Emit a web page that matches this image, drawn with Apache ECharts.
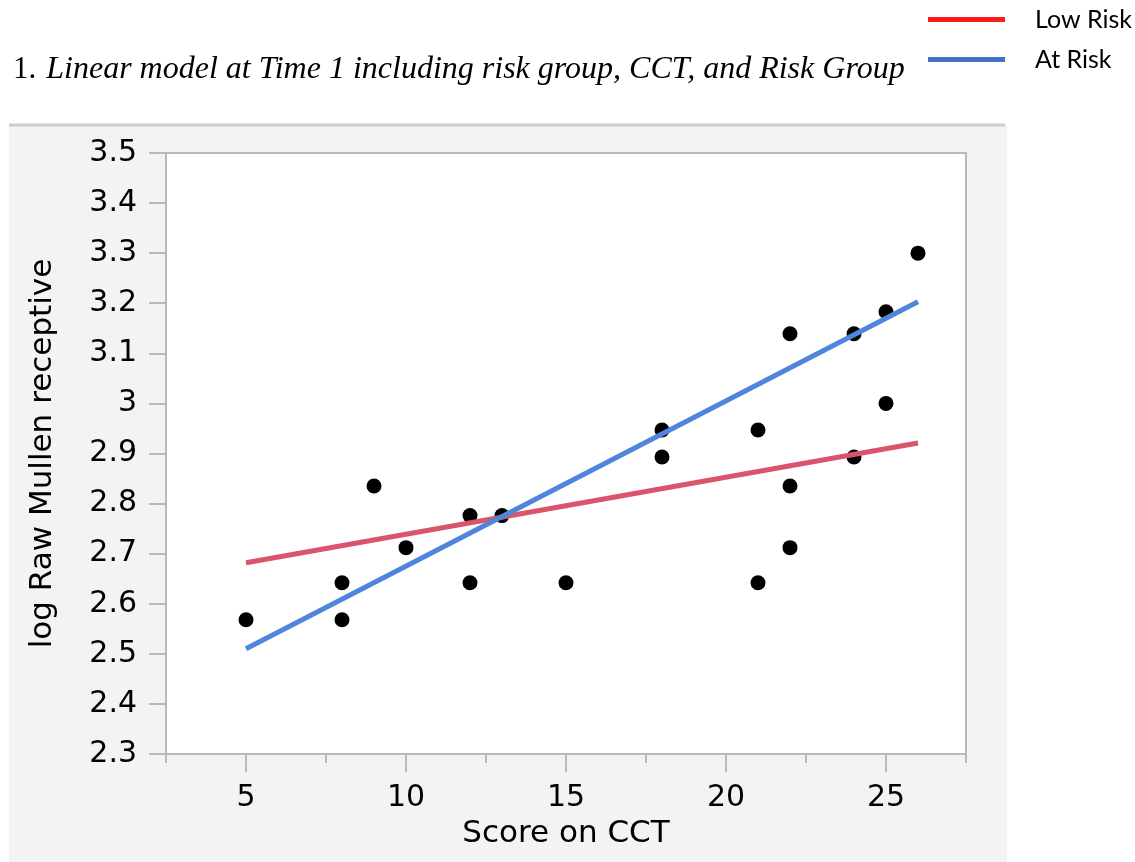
<!DOCTYPE html>
<html>
<head>
<meta charset="utf-8">
<title>Linear model at Time 1</title>
<script src="https://cdn.jsdelivr.net/npm/echarts@6/dist/echarts.min.js"></script>
<style>
  html, body { margin: 0; padding: 0; background: #fff; }
  #chart { width: 1135px; height: 862px; }
</style>
</head>
<body>
<div id="chart"></div>
<script>
  // points: [score on CCT, log raw Mullen receptive]
  const cctScores = [5, 8, 8, 9, 10, 12, 12, 13, 15, 18, 18, 21, 21, 22, 22, 22, 24, 24, 25, 25, 26]
  const mullenLog = [2.568, 2.642, 2.568, 2.835, 2.712, 2.776, 2.642, 2.776, 2.642, 2.947, 2.893,
    2.947, 2.642, 3.139, 2.835, 2.712, 3.139, 2.893, 3.183, 3.000, 3.300]

  // fitted lines, end points
  const lineX = [5, 26]
  const lowRiskY = [2.682, 2.921]
  const atRiskY = [2.51, 3.203]

  const xMajorTicks = [5, 10, 15, 20, 25]

  const axisGray = '#b9b9b9'
  const tickFont = 'DejaVu Sans'

  let chart = echarts.init(document.getElementById('chart'))

  chart.setOption({
    animation: false,
    title: {
      left: 8,
      top: 49,
      text: '{n|1.}  {i|Linear model at Time 1 including risk group, CCT, and Risk Group}',
      textStyle: {
        fontWeight: 'normal',
        rich: {
          n: { fontFamily: 'Liberation Serif', fontWeight: 'normal', fontSize: 31, color: '#000' },
          i: { fontFamily: 'Liberation Serif', fontWeight: 'normal', fontStyle: 'italic', fontSize: 32, color: '#000' }
        }
      }
    },
    legend: {
      orient: 'vertical',
      left: 923,
      top: 2,
      icon: 'rect',
      itemWidth: 77,
      itemHeight: 5,
      itemGap: 15,
      textStyle: {
        fontFamily: 'Lato',
        fontSize: 25,
        color: '#000',
        padding: [0, 0, 0, 25]
      },
      data: [
        { name: 'Low Risk', itemStyle: { color: '#ff1a1a' } },
        { name: 'At Risk', itemStyle: { color: '#4472c4' } }
      ]
    },
    graphic: [
      {
        type: 'rect',
        z: -10,
        shape: { x: 9, y: 125, width: 998, height: 737 },
        style: { fill: '#f3f3f3' }
      },
      {
        type: 'line',
        z: -9,
        shape: { x1: 9, y1: 125, x2: 1005, y2: 125 },
        style: { stroke: '#cdcdcd', lineWidth: 3 }
      }
    ],
    grid: {
      left: 166,
      top: 153,
      right: 169,
      bottom: 108,
      outerBoundsMode: 'none',
      show: true,
      backgroundColor: '#fff',
      borderColor: axisGray,
      borderWidth: 2
    },
    xAxis: [
      {
        type: 'value',
        min: 2.5,
        max: 27.5,
        interval: 2.5,
        name: 'Score on CCT',
        nameLocation: 'middle',
        nameGap: 64,
        nameTextStyle: { fontFamily: tickFont, fontSize: 31, color: '#000' },
        axisLine: { lineStyle: { color: axisGray, width: 2 } },
        axisTick: { length: 9, lineStyle: { color: axisGray, width: 2 } },
        axisLabel: { show: false },
        splitLine: { show: false }
      },
      {
        type: 'value',
        min: 2.5,
        max: 27.5,
        position: 'bottom',
        axisLine: { show: false },
        axisTick: {
          length: 18,
          customValues: xMajorTicks,
          lineStyle: { color: axisGray, width: 2 }
        },
        axisLabel: {
          customValues: xMajorTicks,
          margin: 29,
          fontFamily: tickFont,
          fontSize: 30,
          color: '#000'
        },
        splitLine: { show: false }
      }
    ],
    yAxis: {
      type: 'value',
      min: 2.3,
      max: 3.5,
      interval: 0.1,
      name: 'log Raw Mullen receptive',
      nameLocation: 'middle',
      nameGap: 108,
      nameTextStyle: { fontFamily: tickFont, fontSize: 31, color: '#000' },
      axisLine: { show: true, lineStyle: { color: axisGray, width: 2 } },
      axisTick: { show: true, length: 17, lineStyle: { color: axisGray, width: 2 } },
      axisLabel: {
        margin: 29,
        fontFamily: tickFont,
        fontSize: 30,
        color: '#000',
        formatter: (v) => String(Math.round(v * 10) / 10)
      },
      splitLine: { show: false }
    },
    series: [
      {
        name: 'points',
        type: 'scatter',
        symbolSize: 15,
        itemStyle: { color: '#000', opacity: 1 },
        data: cctScores.map((x, i) => [x, mullenLog[i]])
      },
      {
        name: 'Low Risk',
        type: 'line',
        showSymbol: false,
        lineStyle: { color: '#d9556c', width: 5 },
        itemStyle: { color: '#d9556c' },
        data: lineX.map((x, i) => [x, lowRiskY[i]])
      },
      {
        name: 'At Risk',
        type: 'line',
        showSymbol: false,
        lineStyle: { color: '#4f86dc', width: 5 },
        itemStyle: { color: '#4f86dc' },
        data: lineX.map((x, i) => [x, atRiskY[i]])
      }
    ]
  })
</script>
</body>
</html>
